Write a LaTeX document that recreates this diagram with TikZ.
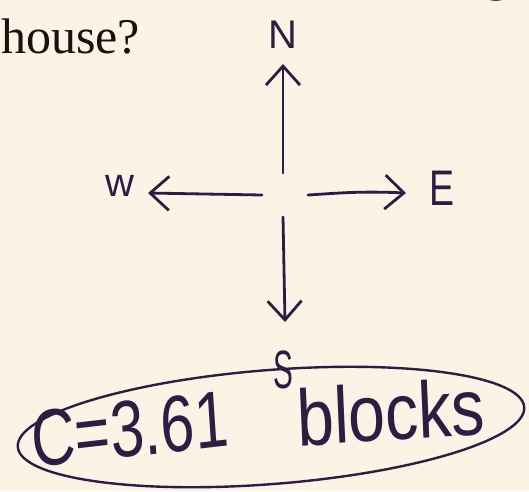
\documentclass[tikz,border=0pt]{standalone}
\usepackage{fontspec}
\setmainfont{Liberation Serif}
\newfontfamily\hand{Liberation Sans}
\usetikzlibrary{arrows.meta}
\definecolor{paper}{HTML}{FBF4E6}
\definecolor{ink}{HTML}{2E1C42}
\definecolor{print}{HTML}{17120E}
\tikzset{
  arr/.style={draw=ink, line width=2.8pt, line cap=round, line join=round,
    -{Straight Barb[length=19pt,width=34pt,line width=2.8pt]}},
  lbl/.style={text=ink, font=\hand, inner sep=0pt},
}
\begin{document}
\begin{tikzpicture}[x=1pt,y=-1pt]
\fill[paper] (0,0) rectangle (529,491);
\useasboundingbox (0,0) rectangle (529,491);
% printed text
\node[anchor=base west, inner sep=0pt, text=print, font=\fontsize{50}{50}\selectfont] (q) at (1,53) {house?};
\node[anchor=base west, inner sep=0pt, text=print, font=\fontsize{50}{50}\selectfont] (g) at (484,-10) {g};
% labels
\node[lbl, anchor=base, font=\hand\fontsize{40}{40}\selectfont] (N) at (283,48) {N};
\node[lbl, anchor=base, font=\hand\fontsize{40}{40}\selectfont] (W) at (120,196) {w};
\node[lbl, anchor=base, font=\hand\fontsize{50}{50}\selectfont, xscale=0.75] (E) at (442,205) {E};
\node[lbl, anchor=base, font=\hand\fontsize{54}{54}\selectfont, xscale=0.55] (S) at (283,388) {S};
% compass arrows
\coordinate (n0) at (283,173);
\coordinate (n1) at (283,64);
\coordinate (w0) at (262,195);
\coordinate (w1) at (148,193);
\coordinate (e0) at (308,195);
\coordinate (e1) at (406,193);
\coordinate (s0) at (283,217);
\coordinate (s1) at (285,322);
\draw[arr] (n0) -- (n1);
\draw[arr] (w0) -- (w1);
\draw[arr] (e0) .. controls (340,193) and (360,191) .. (e1);
\draw[arr] (s0) -- (s1);
% answer
\node[lbl, anchor=base west, font=\hand\fontsize{80}{80}\selectfont, xscale=0.76, rotate=5] (ans1) at (33,468) {C=3.61};
\node[lbl, anchor=base west, font=\hand\fontsize{80}{80}\selectfont, xscale=0.83, rotate=3] (ans2) at (298,446) {blocks};
\draw[ink, line width=2.4pt, rotate around={4.5:(271,427)}] (271,427) ellipse [x radius=254pt, y radius=57pt];
\end{tikzpicture}
\end{document}
